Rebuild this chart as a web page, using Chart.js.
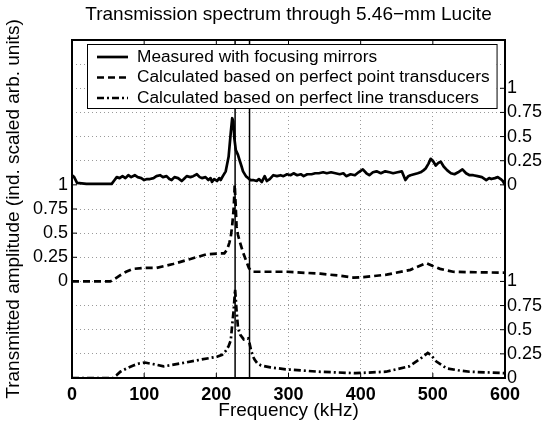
<!DOCTYPE html>
<html>
<head>
<meta charset="utf-8">
<script src="https://cdn.jsdelivr.net/npm/chart.js@4.4.0/dist/chart.umd.min.js"></script>
<style>
  html, body { margin: 0; padding: 0; background: #fff; }
</style>
</head>
<body>
<canvas id="spectrumChart" width="546" height="422"></canvas>
<script>
// measured with focusing mirrors (kHz, scaled amplitude)
const measuredFreq = [
  0, 3, 7, 20, 40, 55, 59, 62, 66, 70,
  74, 78, 82, 87, 91, 96, 100, 104, 108, 113,
  117, 122, 126, 131, 135, 138, 142, 147, 152, 155,
  159, 164, 168, 173, 177, 180, 185, 189, 192, 194,
  197, 201, 204, 206, 209, 213, 217, 220, 222, 223.5,
  225, 227, 230, 232, 235, 237, 241, 244, 247, 251,
  256, 259, 263, 267, 270, 274, 279, 284, 289, 293,
  298, 303, 307, 312, 317, 321, 326, 332, 337, 342,
  348, 353, 359, 365, 371, 376, 380, 386, 392, 397,
  403, 408, 412, 417, 422, 428, 434, 440, 445, 451,
  457, 462, 466, 469, 474, 479, 483, 487, 490, 494,
  497, 500, 504, 508, 511, 515, 520, 525, 530, 535,
  541, 546, 551, 556, 562, 568, 574, 578, 581, 586,
  590, 594, 597, 600
];
const measuredAmp = [
  0.10, 0.08, 0.02, 0.01, 0.01, 0.01, 0.05, 0.08, 0.07, 0.09,
  0.07, 0.10, 0.08, 0.10, 0.08, 0.07, 0.05, 0.06, 0.06, 0.07,
  0.09, 0.10, 0.08, 0.09, 0.06, 0.05, 0.08, 0.07, 0.04, 0.06,
  0.09, 0.08, 0.09, 0.11, 0.08, 0.07, 0.08, 0.05, 0.07, 0.03,
  0.06, 0.04, 0.07, 0.05, 0.09, 0.14, 0.29, 0.54, 0.69, 0.66,
  0.48, 0.36, 0.31, 0.26, 0.19, 0.14, 0.09, 0.07, 0.05, 0.05,
  0.04, 0.06, 0.03, 0.09, 0.04, 0.06, 0.10, 0.09, 0.10, 0.09,
  0.11, 0.10, 0.12, 0.10, 0.11, 0.09, 0.11, 0.11, 0.12, 0.12,
  0.13, 0.12, 0.13, 0.12, 0.11, 0.12, 0.09, 0.11, 0.10, 0.13,
  0.16, 0.12, 0.10, 0.13, 0.14, 0.12, 0.14, 0.13, 0.12, 0.13,
  0.14, 0.05, 0.09, 0.10, 0.11, 0.12, 0.13, 0.15, 0.17, 0.22,
  0.27, 0.25, 0.20, 0.23, 0.24, 0.19, 0.15, 0.12, 0.11, 0.13,
  0.16, 0.12, 0.10, 0.10, 0.09, 0.08, 0.05, 0.07, 0.06, 0.07,
  0.08, 0.06, 0.04, 0.00
];

// calculated, perfect point transducers
const pointFreq = [
  0, 53, 58, 66, 75, 85, 99, 117, 140, 163,
  186, 204, 211, 215, 218, 220, 222, 224, 225.5, 227,
  228, 230, 233, 237, 242, 245, 248, 251, 298, 344,
  370, 390, 404, 436, 469, 491, 500, 510, 528, 560,
  600
];
const pointAmp = [
  0, 0, 0.02, 0.06, 0.10, 0.13, 0.14, 0.14, 0.18, 0.23,
  0.28, 0.29, 0.29, 0.33, 0.40, 0.46, 0.58, 0.75, 1.0, 0.75,
  0.57, 0.48, 0.40, 0.30, 0.20, 0.14, 0.11, 0.10, 0.10, 0.08,
  0.06, 0.04, 0.045, 0.07, 0.12, 0.19, 0.16, 0.13, 0.10, 0.095,
  0.09
];

// calculated, perfect line transducers
const lineFreq = [
  0, 57, 62, 67, 76, 85, 93, 101, 115, 127,
  150, 178, 201, 208, 213, 217, 220, 222, 224, 226,
  228, 230, 233, 238, 244, 246, 248, 251, 253, 257,
  262, 275, 296, 342, 393, 435, 467, 481, 493, 497,
  505, 519, 535, 551, 575, 600
];
const lineAmp = [
  0, 0, 0.03, 0.065, 0.10, 0.13, 0.15, 0.16, 0.14, 0.12,
  0.15, 0.19, 0.22, 0.24, 0.28, 0.33, 0.39, 0.55, 0.70, 0.92,
  0.70, 0.52, 0.45, 0.40, 0.41, 0.36, 0.29, 0.22, 0.19, 0.15,
  0.13, 0.11, 0.09, 0.065, 0.05, 0.065, 0.12, 0.19, 0.26, 0.24,
  0.17, 0.10, 0.08, 0.065, 0.058, 0.05
];

// vertical offsets used to stack the three curves
const measuredOffset = 2;
const pointOffset = 1;
const lineOffset = 0;

// the two solid vertical lines (kHz)
const markerFreqs = [226, 246];

const chartTitle = 'Transmission spectrum through 5.46−mm Lucite';
const seriesNames = [
  'Measured with focusing mirrors',
  'Calculated based on perfect point transducers',
  'Calculated based on perfect line transducers'
];

// ticks
const xTickValues = [0, 100, 200, 300, 400, 500, 600];
const yGridValues = [0, 0.25, 0.5, 0.75, 1, 1.25, 1.5, 1.75, 2, 2.25, 2.5, 2.75, 3, 3.25, 3.5];
const leftTickValues = [1, 1.25, 1.5, 1.75, 2];
const leftTickLabels = ['0', '0.25', '0.5', '0.75', '1'];
const rightTickValues = [0, 0.25, 0.5, 0.75, 1, 2, 2.25, 2.5, 2.75, 3];
const rightTickLabels = ['0', '0.25', '0.5', '0.75', '1', '0', '0.25', '0.5', '0.75', '1'];

const FONT = '"Liberation Sans", Arial, Helvetica, sans-serif';
const DASH_POINT = [7, 4];
const DASH_LINE = [7, 3, 2, 3];
const LINE_W = 2.7;

function toPoints(freqs, amps, offset) {
  return freqs.map((f, i) => ({ x: f, y: amps[i] + offset }));
}

function pickLabel(values, labels, v) {
  const i = values.findIndex(t => Math.abs(t - v) < 1e-6);
  return i >= 0 ? labels[i] : '';
}

const markerSets = markerFreqs.map(f => ({
  data: [{ x: f, y: 0 }, { x: f, y: 3.5 }],
  borderColor: '#000',
  borderWidth: 1.5,
  pointRadius: 0
}));

// title over the plot, legend box, frame and inward ticks
const framePlugin = {
  id: 'frame',
  afterDraw(chart) {
    const { ctx, chartArea: a } = chart;
    ctx.save();

    // title, centred on the plot area like the original
    ctx.font = '19px ' + FONT;
    ctx.fillStyle = '#000';
    ctx.textAlign = 'center';
    ctx.textBaseline = 'middle';
    ctx.fillText(chartTitle, (a.left + a.right) / 2, 15);

    // legend
    ctx.font = '17.3px ' + FONT;
    const textW = Math.max(...seriesNames.map(t => ctx.measureText(t).width));
    const bx = a.left + 15, by = a.top + 4;
    const bw = 50 + textW + 7, bh = 64;
    ctx.fillStyle = '#fff';
    ctx.fillRect(bx, by, bw, bh);
    ctx.strokeStyle = '#000';
    ctx.lineWidth = 1;
    ctx.setLineDash([]);
    ctx.strokeRect(bx + 0.5, by + 0.5, bw, bh);
    const dashes = [[], DASH_POINT, DASH_LINE];
    seriesNames.forEach((name, i) => {
      const ly = by + 13 + i * 20.5;
      ctx.beginPath();
      ctx.setLineDash(dashes[i]);
      ctx.lineWidth = LINE_W;
      ctx.moveTo(bx + 10, ly);
      ctx.lineTo(bx + 41, ly);
      ctx.stroke();
      ctx.setLineDash([]);
      ctx.fillStyle = '#000';
      ctx.textBaseline = 'middle';
      ctx.textAlign = 'left';
      ctx.fillText(name, bx + 50, ly);
    });

    // inward tick marks
    const xs = chart.scales.x, ys = chart.scales.y;
    ctx.lineWidth = 1;
    ctx.beginPath();
    xTickValues.forEach(v => {
      const px = xs.getPixelForValue(v);
      ctx.moveTo(px, a.bottom); ctx.lineTo(px, a.bottom - 5);
      ctx.moveTo(px, a.top); ctx.lineTo(px, a.top + 5);
    });
    leftTickValues.forEach(v => {
      const py = ys.getPixelForValue(v);
      ctx.moveTo(a.left, py); ctx.lineTo(a.left + 5, py);
    });
    rightTickValues.forEach(v => {
      const py = ys.getPixelForValue(v);
      ctx.moveTo(a.right, py); ctx.lineTo(a.right - 5, py);
    });
    ctx.stroke();

    // axes box
    ctx.lineWidth = 2;
    ctx.strokeRect(a.left, a.top, a.right - a.left, a.bottom - a.top);
    ctx.restore();
  }
};

const gridStyle = { color: '#9a9a9a', lineWidth: 1, drawTicks: false, borderDash: [1, 3] };

new Chart(document.getElementById('spectrumChart'), {
  type: 'line',
  data: {
    datasets: [
      {
        label: seriesNames[0],
        data: toPoints(measuredFreq, measuredAmp, measuredOffset),
        borderColor: '#000', borderWidth: LINE_W, pointRadius: 0, borderJoinStyle: 'round'
      },
      {
        label: seriesNames[1],
        data: toPoints(pointFreq, pointAmp, pointOffset),
        borderColor: '#000', borderWidth: LINE_W, pointRadius: 0, borderDash: DASH_POINT
      },
      {
        label: seriesNames[2],
        data: toPoints(lineFreq, lineAmp, lineOffset),
        borderColor: '#000', borderWidth: LINE_W, pointRadius: 0, borderDash: DASH_LINE
      },
      ...markerSets
    ]
  },
  options: {
    responsive: false,
    animation: false,
    devicePixelRatio: 1,
    layout: { padding: { top: 40 } },
    plugins: {
      legend: { display: false },
      tooltip: { enabled: false },
      title: { display: false }
    },
    scales: {
      x: {
        type: 'linear',
        min: 0, max: 600,
        afterBuildTicks: s => { s.ticks = xTickValues.map(v => ({ value: v })); },
        afterFit: s => { s.height = 44; },
        grid: gridStyle,
        border: { display: false, dash: [1, 3] },
        ticks: {
          color: '#000', padding: 6, maxRotation: 0, autoSkip: false,
          font: { family: FONT, size: 18, weight: 'bold' }
        },
        title: {
          display: true, text: 'Frequency (kHz)', color: '#000',
          font: { family: FONT, size: 19 }, padding: 0
        }
      },
      y: {
        position: 'left',
        min: 0, max: 3.5,
        afterBuildTicks: s => { s.ticks = yGridValues.map(v => ({ value: v })); },
        afterFit: s => { s.width = 72; },
        grid: gridStyle,
        border: { display: false, dash: [1, 3] },
        ticks: {
          color: '#000', padding: 4, autoSkip: false,
          font: { family: FONT, size: 18 },
          callback: v => pickLabel(leftTickValues, leftTickLabels, v)
        },
        title: {
          display: true, text: 'Transmitted amplitude (ind. scaled arb. units)', color: '#000',
          font: { family: FONT, size: 19 }, padding: { top: 2, bottom: 0 }
        }
      },
      y2: {
        position: 'right',
        min: 0, max: 3.5,
        afterBuildTicks: s => { s.ticks = yGridValues.map(v => ({ value: v })); },
        afterFit: s => { s.width = 41; },
        grid: { display: false, drawTicks: false },
        border: { display: false },
        ticks: {
          color: '#000', padding: 2, autoSkip: false,
          font: { family: FONT, size: 18 },
          callback: v => pickLabel(rightTickValues, rightTickLabels, v)
        }
      }
    }
  },
  plugins: [framePlugin]
});
</script>
</body>
</html>
